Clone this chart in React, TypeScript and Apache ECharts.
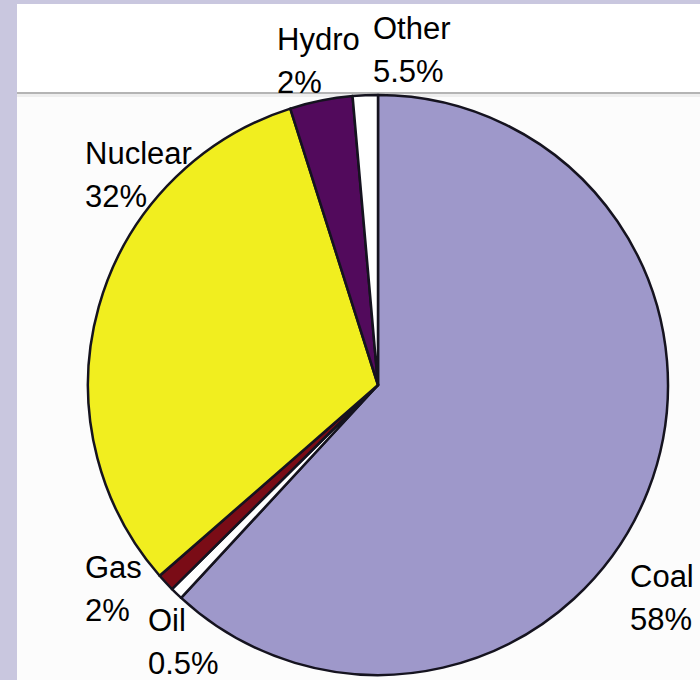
import React, { useEffect, useRef } from "react";
import * as echarts from "echarts";

// Slice order runs clockwise from 12 o'clock.
const categories = ["Coal", "Oil", "Gas", "Nuclear", "Hydro", "Other"];
// Slice sizes as drawn in the picture (angle shares, %)
const sliceValues = [62, 0.7, 1.0, 31.6, 3.5, 1.4];
// Percent texts printed in the labels
const labelPercents = ["58%", "0.5%", "2%", "32%", "2%", "5.5%"];

const sliceColors = ["#9e98ca", "#ffffff", "#7a0c16", "#f1ee1f", "#520a5c", "#ffffff"];
// label block anchors (left x, vertical middle y)
const labelAnchors: [number, number][] = [
  [630, 598],
  [148, 642],
  [85, 589],
  [85, 175],
  [277, 61],
  [373, 50],
];

export default function App() {
  const ref = useRef<HTMLDivElement>(null);
  useEffect(() => {
    if (!ref.current) return;
    const chart = echarts.init(ref.current, undefined, { renderer: "svg" });
    chart.setOption({
      animation: false,
      backgroundColor: "#c9c7df",
      graphic: [
        { type: "rect", z: -10, shape: { x: 17, y: 4, width: 683, height: 676 }, style: { fill: "#fcfcfc" } },
        { type: "rect", z: -10, shape: { x: 17, y: 4, width: 683, height: 88 }, style: { fill: "#ffffff" } },
        { type: "rect", z: -9, shape: { x: 17, y: 92, width: 683, height: 2 }, style: { fill: "#b4b4b4" } },
        { type: "rect", z: -9, shape: { x: 17, y: 94, width: 683, height: 3 }, style: { fill: "#eeeeee" } },
      ],
      series: [
        {
          type: "pie",
          center: [378, 385],
          radius: 290,
          startAngle: 90,
          clockwise: true,
          silent: true,
          emphasis: { disabled: true },
          avoidLabelOverlap: false,
          itemStyle: { borderColor: "#15131f", borderWidth: 2.5 },
          label: {
            show: true,
            position: "outside",
            color: "#000000",
            fontFamily: "'Liberation Sans', Arial, sans-serif",
            fontSize: 31,
            lineHeight: 43,
            align: "left",
            formatter: (p: any) => p.name + "\n" + labelPercents[p.dataIndex],
          },
          labelLine: { show: false },
          labelLayout: (params: any) => {
            const a = labelAnchors[params.dataIndex];
            return { x: a[0], y: a[1], align: "left", verticalAlign: "middle" };
          },
          data: categories.map((name, i) => ({
            name,
            value: sliceValues[i],
            itemStyle: { color: sliceColors[i] },
          })),
        },
      ],
    });
    return () => chart.dispose();
  }, []);
  return (
    <div
      ref={ref}
      style={{ position: "fixed", left: 0, top: 0, width: 700, height: 680 }}
    />
  );
}
